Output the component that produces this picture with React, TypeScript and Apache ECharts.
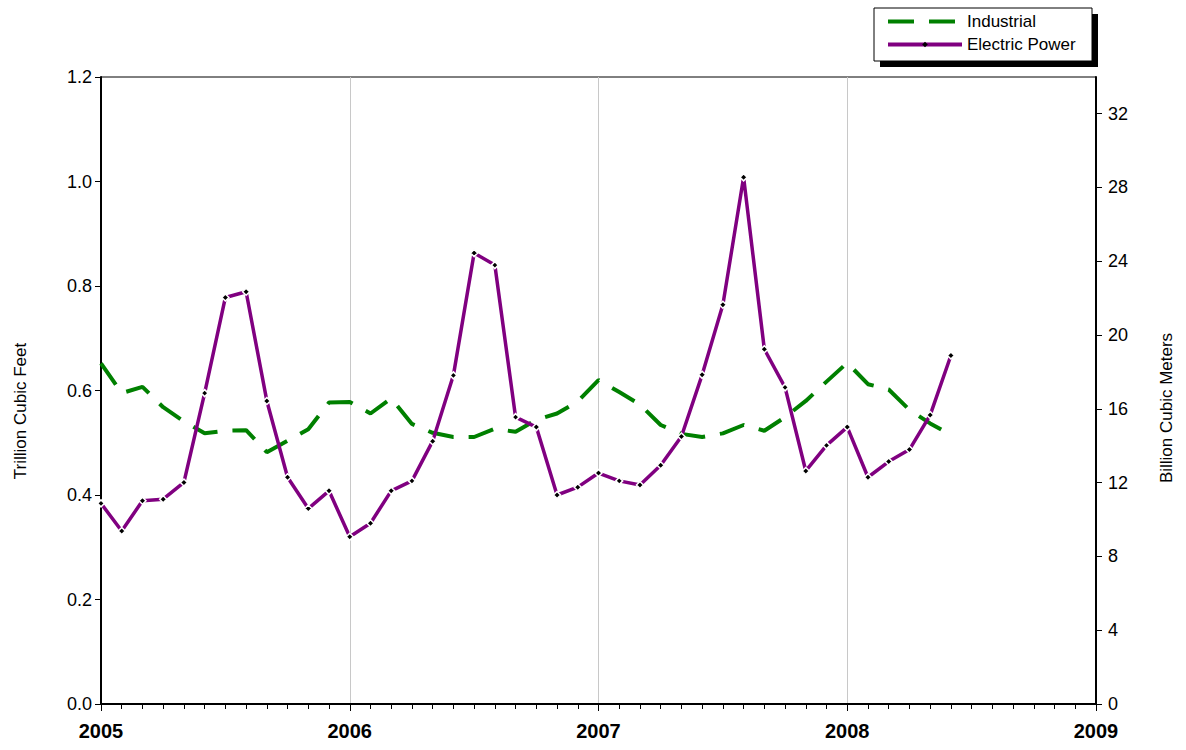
import React, { useEffect, useRef } from 'react';
import * as echarts from 'echarts';

// Monthly values, Jan 2005 .. Jun 2008 (trillion cubic feet)
const yearLabels = ['2005', '2006', '2007', '2008', '2009'];
const seriesNames = ['Industrial', 'Electric Power'];

const industrial = [
  0.652, 0.595, 0.607, 0.568, 0.541, 0.518, 0.523, 0.524, 0.482, 0.504, 0.526, 0.577,
  0.578, 0.556, 0.585, 0.536, 0.519, 0.511, 0.511, 0.527, 0.521, 0.544, 0.556, 0.579,
  0.620, 0.597, 0.573, 0.534, 0.517, 0.511, 0.518, 0.534, 0.523, 0.549, 0.580, 0.617,
  0.653, 0.612, 0.602, 0.563, 0.537, 0.515,
];

const electricPower = [
  0.384, 0.331, 0.389, 0.392, 0.424, 0.595, 0.778, 0.789, 0.580, 0.434, 0.374, 0.408,
  0.320, 0.346, 0.408, 0.427, 0.503, 0.629, 0.863, 0.840, 0.549, 0.530, 0.400, 0.415,
  0.442, 0.427, 0.419, 0.457, 0.512, 0.630, 0.764, 1.008, 0.679, 0.606, 0.446, 0.495,
  0.530, 0.434, 0.464, 0.487, 0.553, 0.667,
];

const leftMax = 1.2;
const leftInterval = 0.2;
const tcfToBcm = 28.3168;
const rightInterval = 4;

const FONT = 'Liberation Sans, Arial, Helvetica, sans-serif';

export default function App() {
  const ref = useRef<HTMLDivElement>(null);

  useEffect(() => {
    if (!ref.current) return;
    const chart = echarts.init(ref.current, null, { renderer: 'svg' });
    chart.setOption({
      animation: false,
      backgroundColor: '#ffffff',
      textStyle: { fontFamily: FONT },
      grid: {
        left: 101,
        right: 90,
        top: 77,
        bottom: 46,
        show: true,
        borderColor: '#000',
        borderWidth: 1,
        backgroundColor: 'transparent',
      },
      legend: {
        data: [
          { name: seriesNames[0], itemStyle: { opacity: 0 } },
          { name: seriesNames[1], itemStyle: { color: '#000', borderColor: '#000', borderWidth: 0 } },
        ],
        orient: 'vertical',
        left: 886,
        top: 13,
        padding: 0,
        itemWidth: 74,
        itemHeight: 7,
        itemGap: 6,
        z: 10,
        lineStyle: { width: 4 },
        textStyle: { fontSize: 17, color: '#000', fontFamily: FONT, lineHeight: 17 },
      },
      graphic: [
        { type: 'rect', z: 1, shape: { x: 880, y: 14, width: 218, height: 53 }, style: { fill: '#000' } },
        { type: 'rect', z: 2, shape: { x: 874, y: 8, width: 218, height: 53 }, style: { fill: '#fff', stroke: '#000', lineWidth: 1 } },
        {
          type: 'text', z: 3, x: 20, y: 411, rotation: Math.PI / 2,
          style: { text: 'Trillion Cubic Feet', fontSize: 17, fontFamily: FONT, fill: '#000', textAlign: 'center', textVerticalAlign: 'middle' },
        },
        {
          type: 'text', z: 3, x: 1166, y: 408, rotation: Math.PI / 2,
          style: { text: 'Billion Cubic Meters', fontSize: 17, fontFamily: FONT, fill: '#000', textAlign: 'center', textVerticalAlign: 'middle' },
        },
      ],
      xAxis: {
        type: 'value',
        min: 0,
        max: (yearLabels.length - 1) * 12,
        interval: 12,
        axisLine: { show: true, lineStyle: { color: '#000', width: 2 } },
        axisTick: { show: true, length: 7, lineStyle: { color: '#000', width: 1 } },
        minorTick: { show: true, splitNumber: 12, length: 5, lineStyle: { color: '#000', width: 1 } },
        splitLine: { show: true, lineStyle: { color: '#c8c8c8', width: 1 } },
        axisLabel: {
          formatter: (v: number) => yearLabels[Math.round(v / 12)] ?? '',
          fontSize: 20,
          fontWeight: 'bold',
          color: '#000',
          margin: 17,
          fontFamily: FONT,
        },
      },
      yAxis: [
        {
          type: 'value',
          position: 'left',
          min: 0,
          max: leftMax,
          interval: leftInterval,
          axisLine: { show: true, lineStyle: { color: '#000', width: 2 } },
          axisTick: { show: true, length: 6, lineStyle: { color: '#000' } },
          splitLine: { show: false },
          axisLabel: {
            formatter: (v: number) => v.toFixed(1),
            fontSize: 18,
            color: '#000',
            margin: 9,
            fontFamily: FONT,
          },
        },
        {
          type: 'value',
          position: 'right',
          min: 0,
          max: leftMax * tcfToBcm,
          interval: rightInterval,
          axisLine: { show: true, lineStyle: { color: '#000', width: 2 } },
          axisTick: { show: true, length: 6, lineStyle: { color: '#000' } },
          splitLine: { show: false },
          axisLabel: {
            formatter: (v: number) => (Math.abs(v % rightInterval) < 1e-6 ? String(Math.round(v)) : ''),
            showMaxLabel: false,
            fontSize: 18,
            color: '#000',
            margin: 12,
            fontFamily: FONT,
          },
        },
      ],
      series: [
        {
          name: seriesNames[0],
          type: 'line',
          yAxisIndex: 0,
          data: industrial.map((v, i) => [i, v]),
          symbol: 'none',
          itemStyle: { color: '#008000' },
          lineStyle: { color: '#008000', width: 4, type: [26, 15], cap: 'butt' },
          z: 3,
        },
        {
          name: seriesNames[1],
          type: 'line',
          yAxisIndex: 0,
          data: electricPower.map((v, i) => [i, v]),
          symbol: 'diamond',
          symbolSize: 7,
          showAllSymbol: true,
          itemStyle: { color: '#000', borderColor: '#fff', borderWidth: 1.5 },
          lineStyle: { color: '#800080', width: 3.5 },
          z: 4,
        },
      ],
    });
    return () => chart.dispose();
  }, []);

  return (
    <div
      ref={ref}
      style={{ position: 'absolute', left: 0, top: 0, width: 1186, height: 750, background: '#fff' }}
    />
  );
}
